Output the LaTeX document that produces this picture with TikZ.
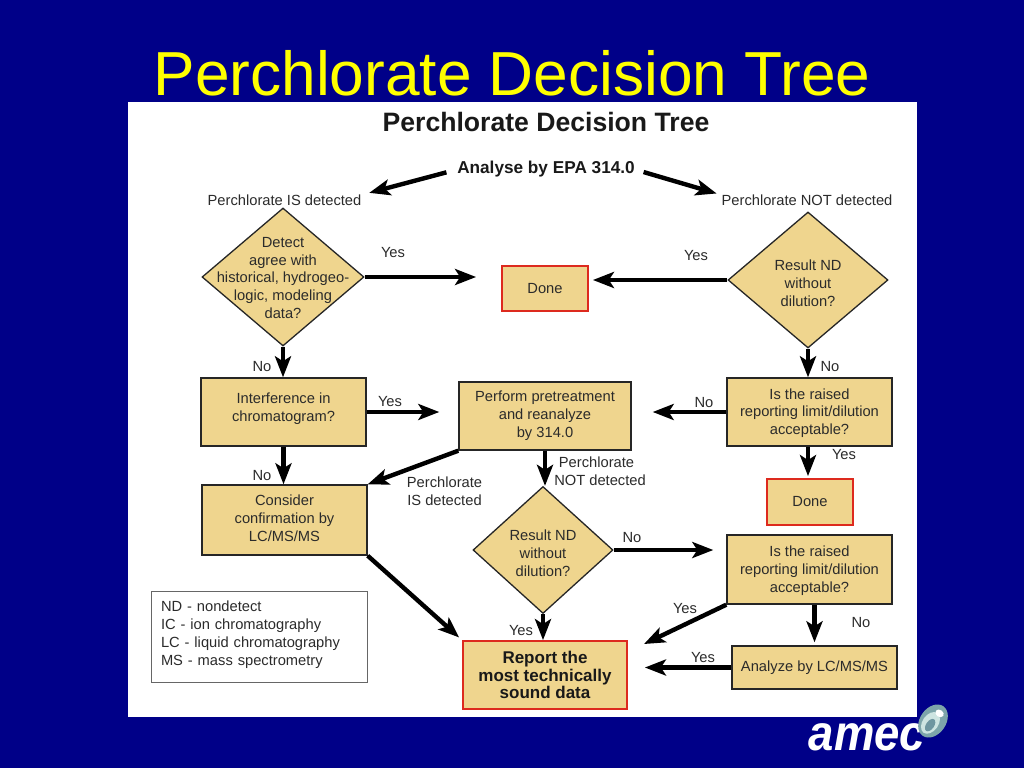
\documentclass[tikz,border=0pt]{standalone}
\usepackage{fontspec}
\setmainfont{Liberation Sans}
\usetikzlibrary{arrows.meta,shapes.geometric,calc}
\definecolor{navy}{HTML}{000088}
\definecolor{tan}{HTML}{EFD58E}
\definecolor{ink}{HTML}{2B2B2B}
\definecolor{redline}{HTML}{DD2A1E}
\tikzset{
  txt/.style={font=\fontsize{14.7}{17.8}\selectfont,text=ink,align=center,inner sep=0pt},
  flowbox/.style={draw=black!85,line width=1.4pt,fill=tan,txt,minimum width=#1},
  flowbox/.default=165pt,
  endbox/.style={draw=redline,line width=1.8pt,fill=tan,txt},
  choice/.style={draw=black!85,line width=1.3pt,fill=tan,diamond,inner sep=0pt,aspect=1},
  inner/.style={txt},
  arr/.style={line width=4.4pt,black,-{Stealth[length=21pt,width=16pt,inset=5pt]}},
}
\begin{document}
\begin{tikzpicture}[x=1pt,y=-1pt]
\useasboundingbox (0,0) rectangle (1024,768);
\fill[navy] (0,0) rectangle (1024,768);
\node (title) at (512,73) [font=\fontsize{62.2}{70}\selectfont,text={rgb,255:red,255;green,255;blue,0},inner sep=0pt] {Perchlorate Decision Tree};
\fill[white] (128,102) rectangle (917,717);

\node (sub) at (546,122) [font=\fontsize{26.6}{30}\selectfont\bfseries,text=black!90,inner sep=0pt] {Perchlorate Decision Tree};
\node (analyse) at (546,169.5) [font=\fontsize{17.2}{20}\selectfont\bfseries,text=black!90,inner sep=0pt] {Analyse by EPA 314.0};
\node (isdet) at (284.5,200.5) [txt] {Perchlorate IS detected};
\node (notdet) at (807,200.5) [txt] {Perchlorate NOT detected};

\node (d1) at (283,277) [choice,minimum width=162pt,minimum height=138pt,label={[inner,yshift=-1pt]center:{Detect\\agree with\\historical, hydrogeo-\\logic, modeling\\data?}}] {};
\node (d2) at (808,280) [choice,minimum width=160pt,minimum height=136pt,label={[inner,yshift=-3pt]center:{Result ND\\without\\dilution?}}] {};
\node (d3) at (543,550) [choice,minimum width=140pt,minimum height=127pt,label={[inner,yshift=-3.5pt]center:{Result ND\\without\\dilution?}}] {};

\node (done1) at (545,288.5) [endbox,minimum width=86pt,minimum height=45pt] {Done};
\node (done2) at (810,502) [endbox,minimum width=86pt,minimum height=46pt] {Done};
\node (int) at (283.5,412) [flowbox,minimum height=68pt,label={[inner,yshift=3pt]center:{Interference in\\chromatogram?}}] {};
\node (pre) at (545,416) [flowbox=172pt,minimum height=68pt] {Perform pretreatment\\and reanalyze\\by 314.0};
\node (raised1) at (809.5,412) [flowbox,minimum height=68pt,label={[inner,yshift=-1pt]center:{Is the raised\\reporting limit/dilution\\acceptable?}}] {};
\node (cons) at (284.5,520) [flowbox,minimum height=70pt,label={[inner,yshift=2pt]center:{Consider\\confirmation by\\LC/MS/MS}}] {};
\node (raised2) at (809.5,569.5) [flowbox,minimum height=69pt,label={[inner,yshift=-1pt]center:{Is the raised\\reporting limit/dilution\\acceptable?}}] {};
\node (report) at (545,675) [endbox,minimum width=164pt,minimum height=68pt,font=\fontsize{17}{17.3}\selectfont\bfseries,text=black!90] {Report the\\most technically\\sound data};
\node (lcms) at (814.5,667.5) [flowbox,minimum height=43pt] {Analyze by LC/MS/MS};
\node (legend) at (259,636.5) [draw=black!60,line width=.8pt,fill=white,minimum width=216pt,minimum height=91pt,inner sep=0pt,label={[inner,align=left,text width=196pt,yshift=2pt]center:{ND - nondetect\\IC - ion chromatography\\LC - liquid chromatography\\MS - mass spectrometry}}] {};

\coordinate (rep2) at (644,644);

\draw[arr,shorten <=11pt,shorten >=8pt] (analyse.west) -- (isdet.north east);
\draw[arr,shorten <=9pt,shorten >=5pt] (analyse.east) -- (notdet.north west);
\draw[arr,shorten >=25pt] (d1.east) -- (d1.east -| done1.west);
\draw[arr,shorten >=4pt] (d2.west) -- (d2.west -| done1.east);
\draw[arr] (d1.south) -- (d1.south |- int.north);
\draw[arr] (d2.south) -- (d2.south |- raised1.north);
\draw[arr,shorten >=19pt] (int.east) -- (int.east -| pre.west);
\draw[arr,shorten >=21pt] (raised1.west) -- (raised1.west -| pre.east);
\draw[arr] (int.south) -- (int.south |- cons.north);
\draw[arr] (pre.south) -- (pre.south |- d3.north);
\draw[arr] (pre.south west) -- (cons.north east);
\draw[arr,shorten >=2pt] (d2.south |- raised1.south) -- (d2.south |- done2.north);
\draw[arr,shorten >=4pt] (cons.south east) -- (report.north west);
\draw[arr,shorten >=13pt] (d3.east) -- (d3.east -| raised2.west);
\draw[arr] (d3.south) -- (d3.south |- report.north);
\draw[arr] (raised2.south west) -- (rep2);
\draw[arr,shorten >=3pt] (lcms.north |- raised2.south) -- (lcms.north);
\draw[arr,shorten >=17pt] (lcms.west) -- (lcms.west -| report.east);

\node (l1) at (393,253) [txt] {Yes};
\node (l2) at (696,256) [txt] {Yes};
\node (l3) at (262,367) [txt] {No};
\node (l4) at (830,367) [txt] {No};
\node (l5) at (390,402) [txt] {Yes};
\node (l6) at (704,403) [txt] {No};
\node (l7) at (262,476) [txt] {No};
\node (l8) at (844,455) [txt] {Yes};
\node (l9) at (444.5,491.5) [txt] {Perchlorate\\IS detected};
\node (l10) at (600,471) [txt] {Perchlorate\hspace*{7pt}\\NOT detected};
\node (l11) at (632,538) [txt] {No};
\node (l12) at (685,609) [txt] {Yes};
\node (l13) at (861,623) [txt] {No};
\node (l14) at (521,631) [txt] {Yes};
\node (l15) at (703,658) [txt] {Yes};

\node (amec) at (867,750) [anchor=base,font=\fontsize{50}{50}\selectfont\bfseries\itshape,text=white,inner sep=0pt,xscale=.91] {amec};
\fill[rotate around={-35:(933,721)},fill={rgb,255:red,125;green,165;blue,170}] (933,721) ellipse (13pt and 18pt);
\fill[rotate around={-35:(933,721)},fill={rgb,255:red,205;green,228;blue,225}] (932,724) ellipse (8pt and 12pt);
\fill[rotate around={-35:(933,721)},fill={rgb,255:red,110;green,150;blue,160}] (933,726) ellipse (4pt and 7pt);
\fill[rotate around={-35:(933,721)},fill=white] (934,711) ellipse (4.5pt and 3.5pt);
\end{tikzpicture}
\end{document}
